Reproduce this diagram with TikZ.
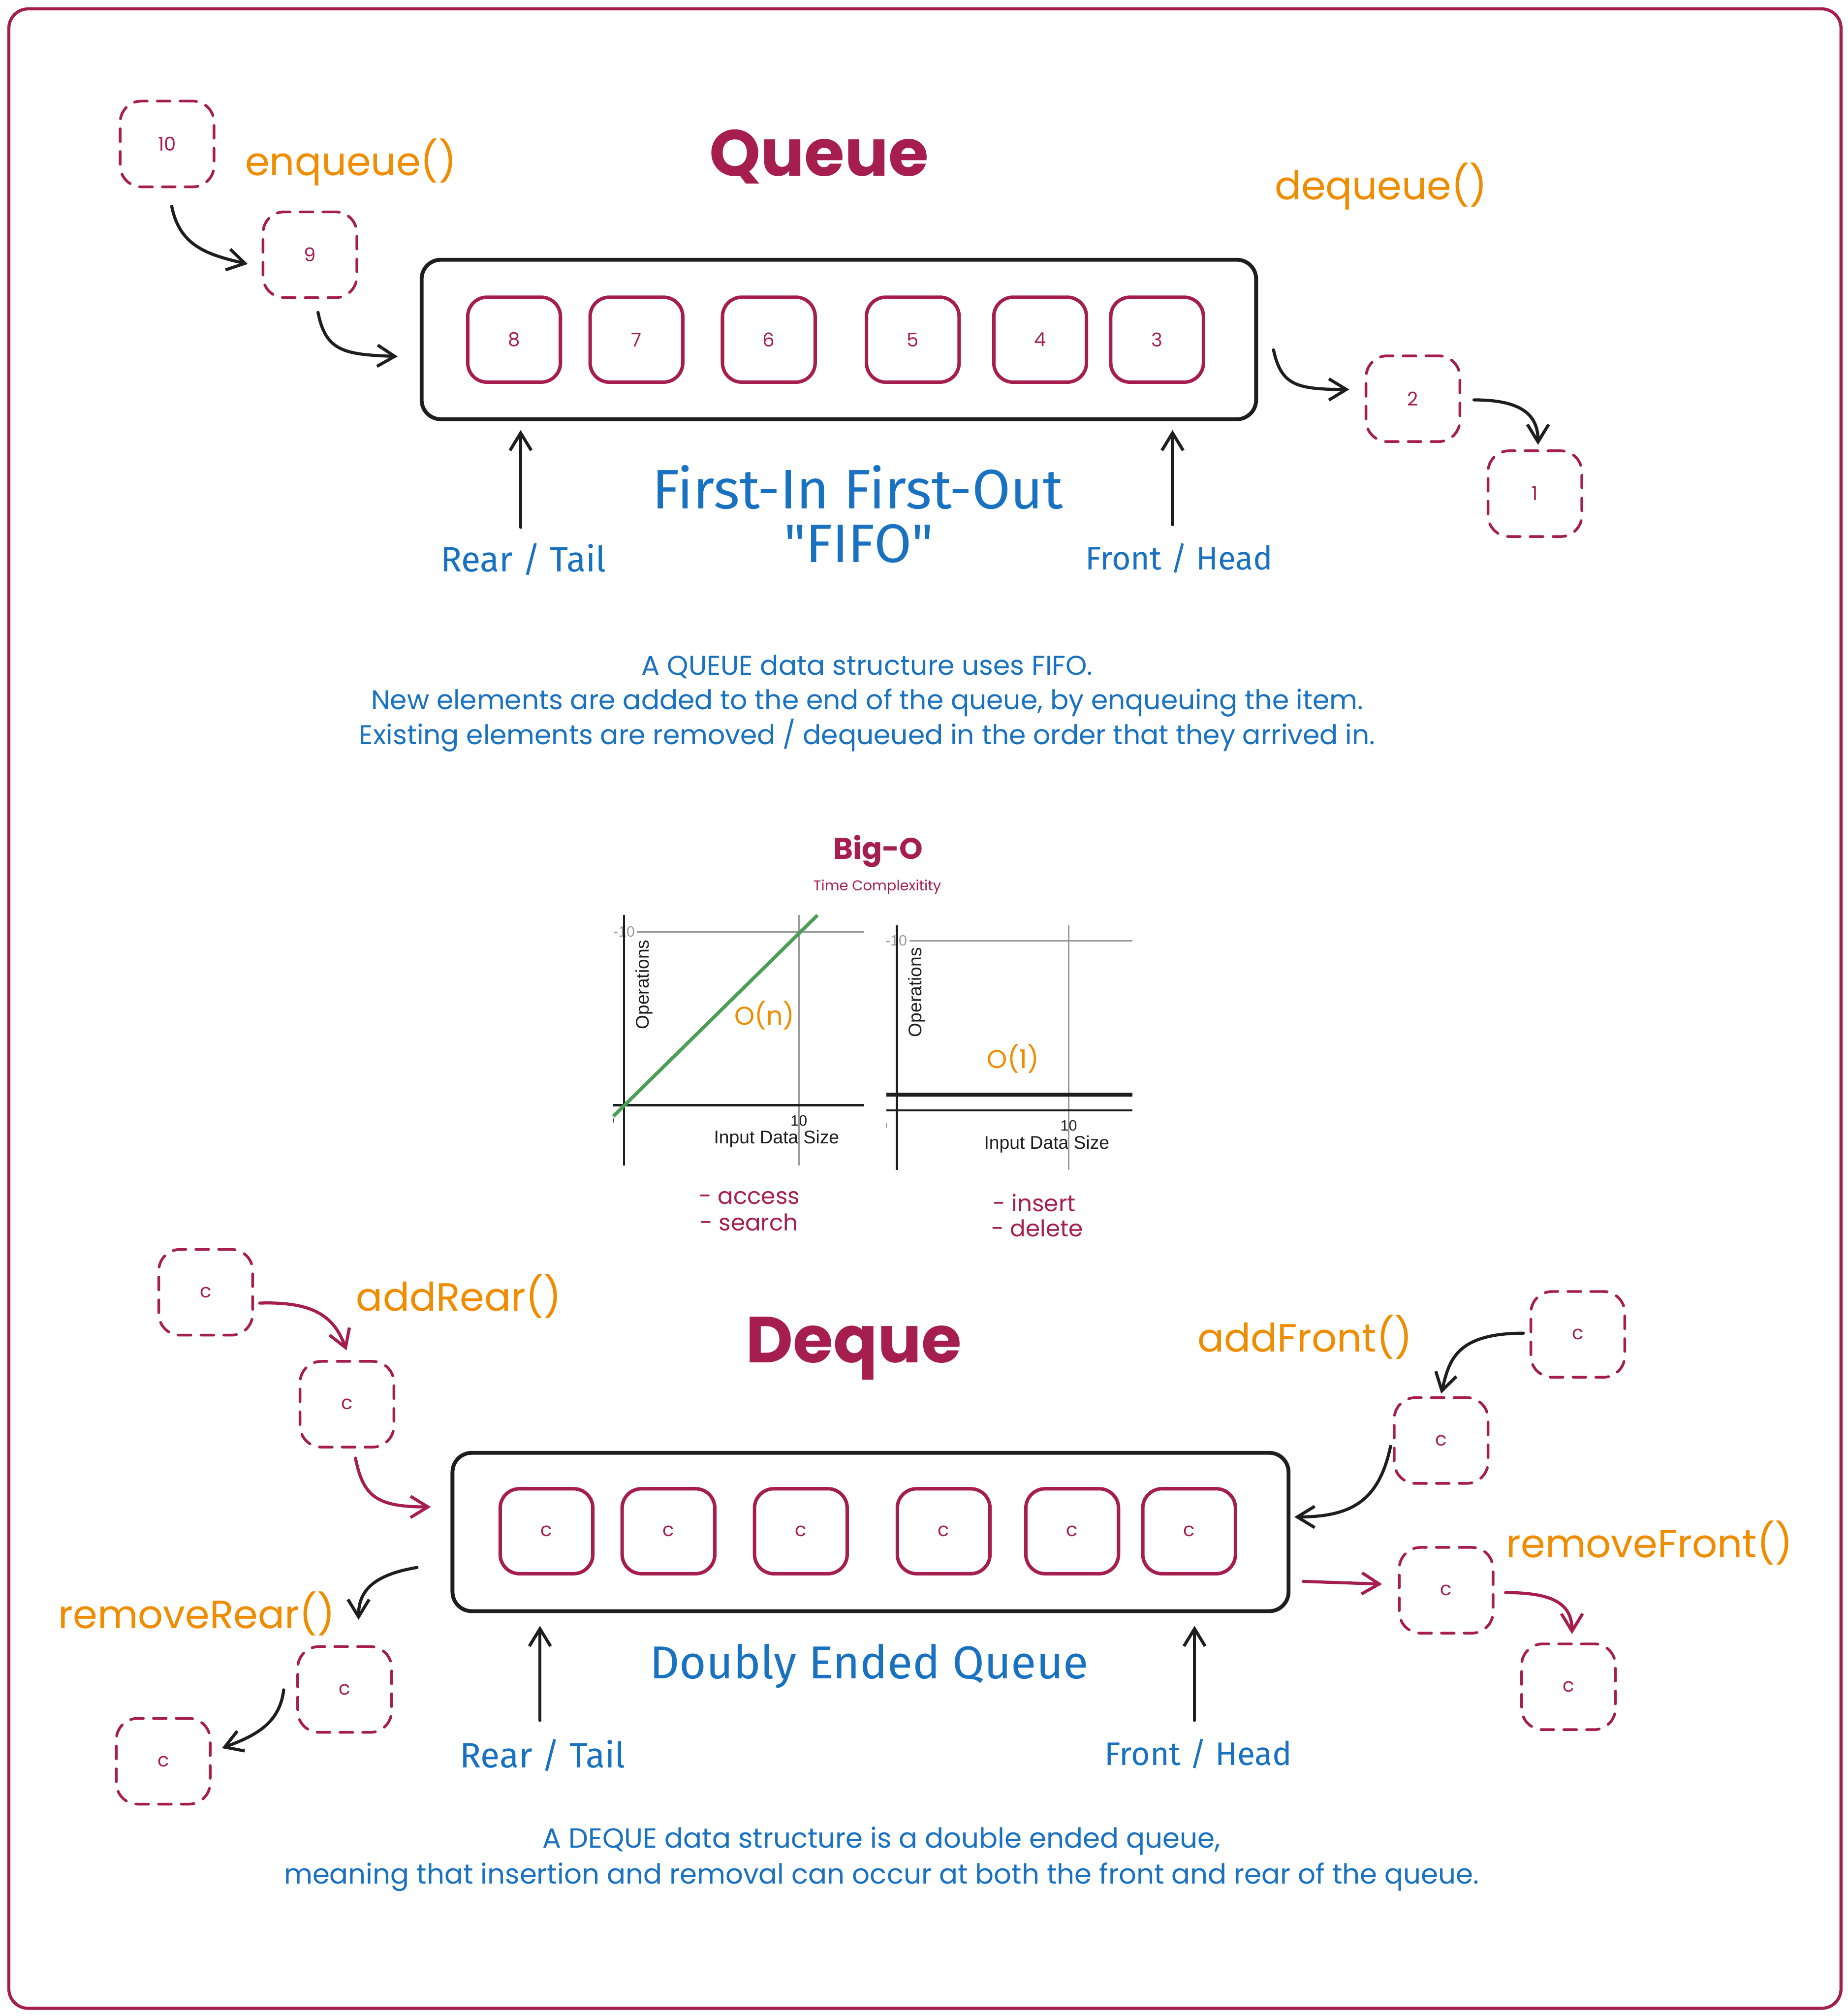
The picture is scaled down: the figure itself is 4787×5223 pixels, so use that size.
\documentclass[tikz,border=0pt]{standalone}
\usepackage{fontspec}
\setmainfont{Poppins}
\newfontfamily\narrowf{Fira Sans}
\newfontfamily\chartf{Liberation Sans}
\usetikzlibrary{arrows.meta}
\definecolor{crim}{HTML}{A61E4D}
\definecolor{ora}{HTML}{F08C00}
\definecolor{blu}{HTML}{1971C2}
\definecolor{ink}{HTML}{1E1E1E}
\definecolor{grn}{HTML}{4A9E55}
\definecolor{gry}{HTML}{999999}
\newcommand{\fsz}[2]{\fontsize{#1}{#2}\selectfont}
\tikzset{
  dbox/.style={draw=crim, line width=0.07cm, dash pattern=on 0.33cm off 0.26cm, line cap=round, rounded corners=0.55cm, minimum width=2.43cm, minimum height=2.22cm, inner sep=0pt, text=crim, font=\fsz{14}{16}},
  sbox/.style={draw=crim, line width=0.09cm, rounded corners=0.5cm, minimum width=2.4cm, minimum height=2.2cm, inner sep=0pt, text=crim, font=\fsz{14}{16}},
  cont/.style={draw=ink, line width=0.1cm, rounded corners=0.5cm, inner sep=0pt},
  arr/.style={draw=ink, line width=0.08cm, line cap=round, line join=round, -{Straight Barb[length=0.45cm,width=0.55cm]}},
  carr/.style={arr, draw=crim},
  txt/.style={inner sep=0pt},
  olab/.style={txt, text=ora, font=\fsz{29}{35}},
  nlab/.style={txt, text=blu, font=\narrowf\fsz{26}{30}},
  flab/.style={txt, text=blu, font=\narrowf\fsz{24}{30}},
  ttl/.style={txt, text=crim, font=\bfseries\fsz{48}{56}},
  para/.style={txt, text=blu, align=center, font=\fsz{20}{25.6}},
  clab/.style={txt, text=ink, font=\chartf\fsz{13.5}{16}},
  ticklab/.style={txt, font=\chartf\fsz{11}{13}},
  lstlab/.style={txt, text=crim, anchor=west, font=\fsz{17}{20}},
}
\begin{document}
\begin{tikzpicture}[x=0.01cm, y=-0.01cm]
\useasboundingbox (0,0) rectangle (4787,5223);
\fill[white] (0,0) rectangle (4787,5223);
\draw[crim, line width=0.08cm, rounded corners=0.5cm] (23,23) rectangle (4770,5203);

% ---------------- Queue ----------------
\node[dbox] (b10) at (433,373) {10};
\node[olab] (enq) at (909,420) {enqueue()};
\node[dbox] (b9) at (803,660) {9};
\node[ttl] (qttl) at (2122,406) {Queue};
\node[olab] (deq) at (3578,483) {dequeue()};
\node[cont, minimum width=21.61cm, minimum height=4.13cm] (qbox) at (2173.5,879.5) {};
\node[sbox] (q8) at (1332,880) {8};
\node[sbox] (q7) at (1649,880) {7};
\node[sbox] (q6) at (1992,880) {6};
\node[sbox] (q5) at (2365,880) {5};
\node[sbox] (q4) at (2695,880) {4};
\node[sbox] (q3) at (2998,880) {3};
\node[dbox] (b2) at (3661,1033) {2};
\node[dbox] (b1) at (3977,1279) {1};
\node[nlab] (qrear) at (1356,1449) {Rear / Tail};
\node[flab] (qfront) at (3055,1446) {Front / Head};
\node[txt, text=blu, font=\narrowf\fsz{41}{46}] (fifo1) at (2222,1262) {First-In First-Out};
\node[txt, text=blu, font=\narrowf\fsz{40}{46}] (fifo2) at (2225,1409) {"FIFO"};
\node[para] (qpara) at (2247,1822) {A QUEUE data structure uses FIFO.\\New elements are added to the end of the queue, by enqueuing the item.\\Existing elements are removed / dequeued in the order that they arrived in.};

\draw[arr] ([shift={(12,47)}]b10.south) .. controls +(20,100) and +(-110,-25) .. ([shift={(-36,24)}]b9.west);
\draw[arr] ([shift={(21,35)}]b9.south) .. controls +(20,100) and +(-140,-5) .. ([shift={(-57,44)}]qbox.west);
\draw[arr] ([shift={(40,27)}]qbox.east) .. controls +(20,90) and +(-140,0) .. ([shift={(-40,-24)}]b2.west);
\draw[arr] ([shift={(33,3)}]b2.east) .. controls +(120,0) and +(0,-80) .. ([shift={(8,-12)}]b1.north);
\coordinate (qra) at (1349,1366);
\coordinate (qfa) at (3038,1359);
\draw[arr, shorten >=0.23cm] (qra) -- (qra |- qbox.south);
\draw[arr, shorten >=0.23cm] (qfa) -- (qfa |- qbox.south);

% ---------------- Big-O ----------------
\node[txt, text=crim, font=\bfseries\fsz{22}{26}] (bigo) at (2275,2205) {Big-O};
\node[txt, text=crim, font=\fsz{10.5}{12}] (tcx) at (2273,2298) {Time Complexitity};

% chart 1
\node[ticklab, text=gry] (m10a) at (1617,2414) {-10};
\begin{scope}
\clip (1589,2870) rectangle (1660,2950);
\node[ticklab, text=ink] (z0a) at (1581,2903) {0};
\end{scope}
\node[ticklab, text=ink] (t10a) at (2070,2903) {10};
\node[clab] (ids1) at (2012,2951) {Input Data Size};
\node[clab, rotate=90] (ops1) at (1669,2551) {Operations};
\draw[gry, line width=0.04cm] (2070,2371) -- (2070,3020);
\draw[gry, line width=0.04cm] (1650,2414) -- (2239,2414);
\draw[ink, line width=0.06cm] (1617,2371) -- (1617,3020);
\draw[ink, line width=0.06cm] (1589,2863) -- (2239,2863);
\draw[grn, line width=0.09cm] (1589,2892) -- (2118,2371);
\node[txt, text=ora, font=\fsz{19}{22}] (on) at (1981,2631) {O(n)};
\node[lstlab] (acc) at (1810,3103) {- access};
\node[lstlab] (sea) at (1813,3167) {- search};

% chart 2
\node[ticklab, text=gry] (m10b) at (2322,2437) {-10};
\begin{scope}
\clip (2296,2885) rectangle (2360,2960);
\node[ticklab, text=ink] (z0b) at (2288,2916) {0};
\end{scope}
\node[ticklab, text=ink] (t10b) at (2769,2916) {10};
\node[clab] (ids2) at (2712,2965) {Input Data Size};
\node[clab, rotate=90] (ops2) at (2375,2571) {Operations};
\draw[gry, line width=0.04cm] (2769,2397) -- (2769,3031);
\draw[gry, line width=0.04cm] (2356,2437) -- (2934,2437);
\draw[ink, line width=0.06cm] (2324,2397) -- (2324,3031);
\draw[ink, line width=0.05cm] (2296,2877) -- (2934,2877);
\draw[ink, line width=0.1cm] (2296,2836) -- (2934,2836);
\node[txt, text=ora, font=\fsz{19}{22}] (o1) at (2625,2743) {O(1)};
\node[lstlab] (ins) at (2572,3116) {- insert};
\node[lstlab] (del) at (2568,3182) {- delete};

% ---------------- Deque ----------------
\node[dbox] (c1) at (533,3348) {c};
\node[olab] (addr) at (1189,3358) {addRear()};
\node[dbox] (c2) at (899,3638) {c};
\node[ttl] (dttl) at (2212,3494) {Deque};
\node[olab] (addf) at (3381,3464) {addFront()};
\node[dbox] (f1) at (4088,3457) {c};
\node[dbox] (f2) at (3734,3732) {c};
\node[cont, minimum width=21.65cm, minimum height=4.10cm] (dq) at (2255.5,3969) {};
\node[sbox] (d1) at (1416,3967) {c};
\node[sbox] (d2) at (1732,3967) {c};
\node[sbox] (d3) at (2075,3967) {c};
\node[sbox] (d4) at (2445,3967) {c};
\node[sbox] (d5) at (2778,3967) {c};
\node[sbox] (d6) at (3081,3967) {c};
\node[olab] (remr) at (510,4180) {removeRear()};
\node[dbox] (r1) at (893,4377) {c};
\node[dbox] (r2) at (423,4563) {c};
\node[nlab] (drear) at (1406,4547) {Rear / Tail};
\node[flab] (dfront) at (3105,4544) {Front / Head};
\node[txt, text=blu, font=\narrowf\fsz{34}{40}] (dbl) at (2252,4317) {Doubly Ended Queue};
\node[dbox] (g1) at (3747,4120) {c};
\node[dbox] (g2) at (4064,4370) {c};
\node[olab] (remf) at (4274,3997) {removeFront()};
\node[para, font=\fsz{20.4}{26.5}] (dpara) at (2284,4816) {A DEQUE data structure is a double ended queue,\\meaning that insertion and removal can occur at both the front and rear of the queue.};

\draw[carr] ([shift={(15,28)}]c1.east) .. controls +(150,-5) and +(-30,-80) .. ([shift={(-1,-25)}]c2.north);
\draw[carr] ([shift={(22,25)}]c2.south) .. controls +(20,100) and +(-140,0) .. ([shift={(-51,-65)}]dq.west);
\draw[arr] ([shift={(-87,92)}]dq.west) .. controls +(-120,20) and +(0,-70) .. ([shift={(36,-66)}]r1.north);
\draw[arr] ([shift={(-33,1)}]r1.west) .. controls +(-10,90) and +(80,-30) .. ([shift={(27,-34)}]r2.east);
\draw[arr] ([shift={(-16,-3)}]f1.west) .. controls +(-180,0) and +(20,-80) .. ([shift={(0,-7)}]f2.north);
\draw[arr] ([shift={(-6,15)}]f2.west) .. controls +(-30,140) and +(150,0) .. ([shift={(10,-39)}]dq.east);
\draw[carr] ([shift={(33,128)}]dq.east) -- ([shift={(-41,-16)}]g1.west);
\draw[carr] ([shift={(29,6)}]g1.east) .. controls +(120,0) and +(0,-80) .. ([shift={(9,-22)}]g2.north);
\coordinate (dra) at (1399,4457);
\coordinate (dfa) at (3095,4457);
\draw[arr, shorten >=0.33cm] (dra) -- (dra |- dq.south);
\draw[arr, shorten >=0.33cm] (dfa) -- (dfa |- dq.south);
\end{tikzpicture}
\end{document}
